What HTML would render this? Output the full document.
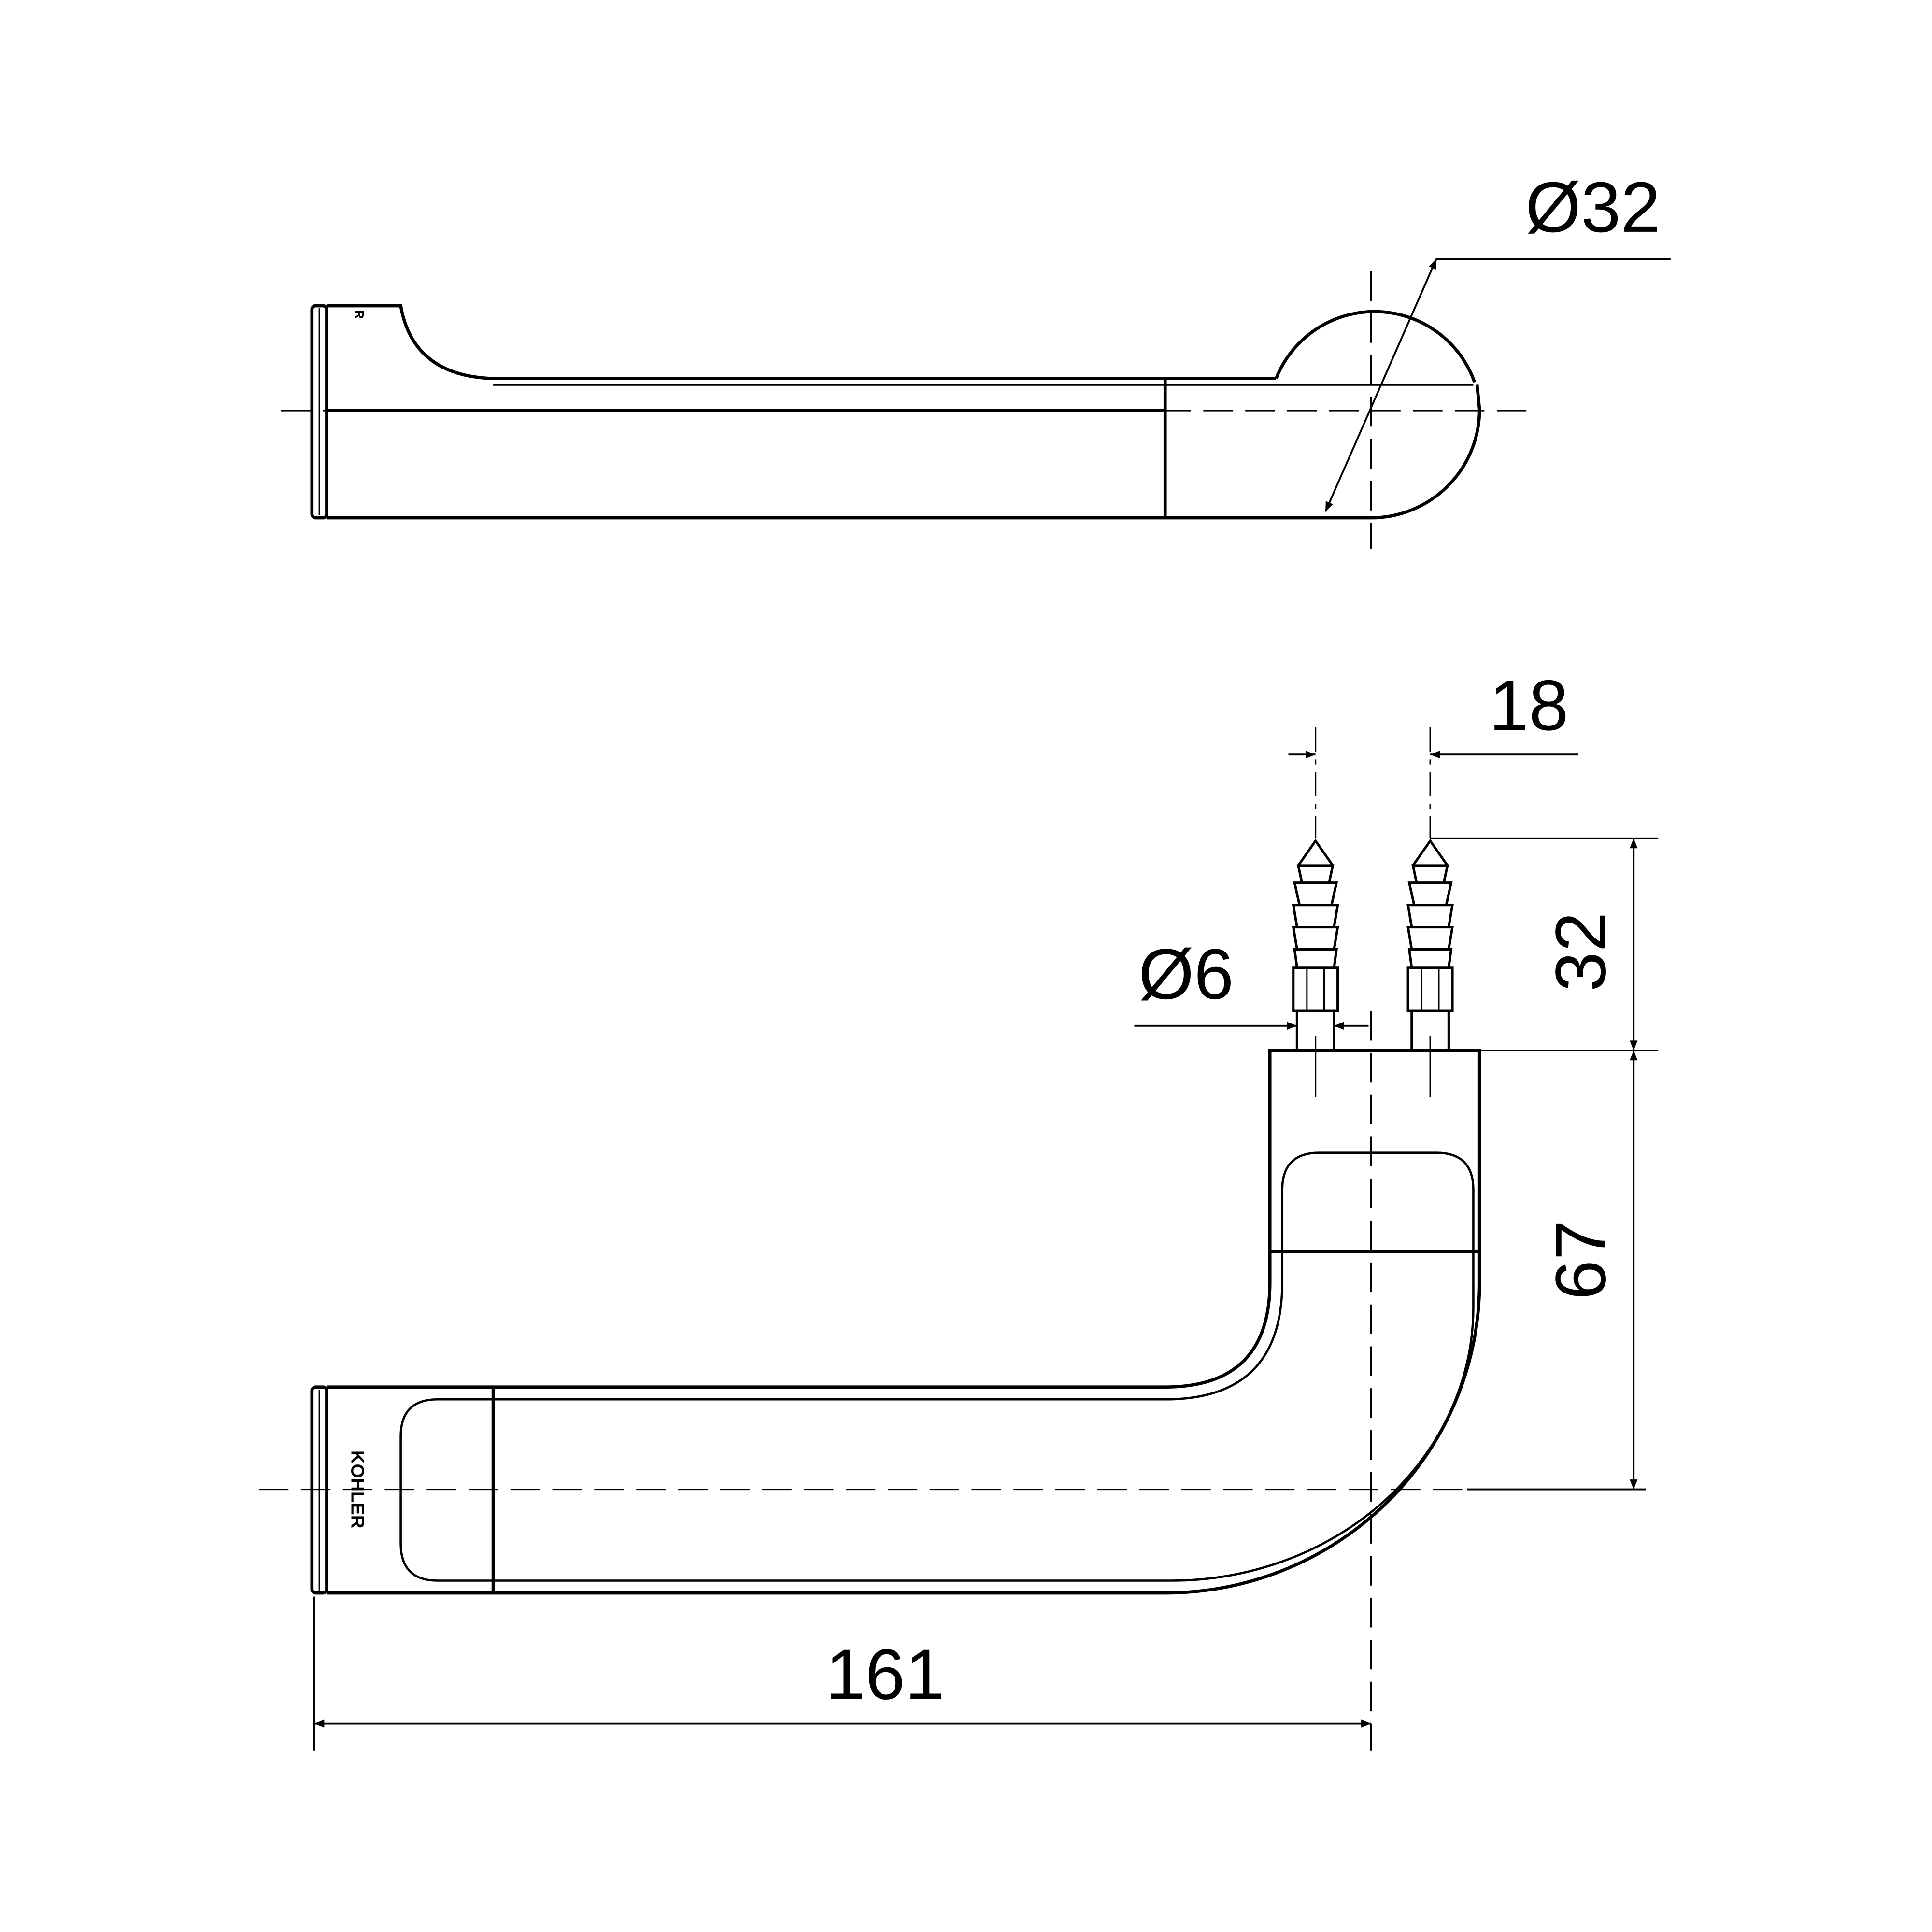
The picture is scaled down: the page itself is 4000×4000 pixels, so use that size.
<!DOCTYPE html>
<html><head><meta charset="utf-8"><style>
html,body{margin:0;padding:0;background:#fff;width:4000px;height:4000px;overflow:hidden}
svg{display:block}
text{font-family:"Liberation Sans",sans-serif;fill:#000}
</style></head><body>
<svg width="4000" height="4000" viewBox="0 0 1567 1567" xmlns="http://www.w3.org/2000/svg">
<defs>
<marker id="a" viewBox="0 0 10 10" refX="10" refY="5" markerWidth="16" markerHeight="8" markerUnits="userSpaceOnUse" orient="auto-start-reverse"><path d="M0,1 L10,5 L0,9 z" fill="#000"/></marker>
</defs>
<g fill="none" stroke="#000" stroke-width="2.6">
<!-- TOP VIEW -->
<rect x="253" y="248" width="12" height="172" rx="3"/>
<line x1="259" y1="250" x2="259" y2="418" stroke-width="1.2"/>
<path d="M265,248 L325,248 Q335,305 400,307 L1035,307"/>
<path d="M400,312 L1195,312" stroke-width="1.8"/>
<path d="M265,420 L1112,420 A88,88 0 0 0 1200,332 L1198,312"/>
<path d="M1035,307 A86,86 0 0 1 1196,310"/>
<line x1="265" y1="333" x2="945" y2="333"/>
<line x1="945" y1="307" x2="945" y2="420"/>
<line x1="228" y1="333" x2="1240" y2="333" stroke-width="1.2" stroke-dasharray="24,10"/>
<line x1="1112" y1="220" x2="1112" y2="445" stroke-width="1.2" stroke-dasharray="24,10"/>
<line x1="1075" y1="415" x2="1165" y2="210" stroke-width="1.5" marker-start="url(#a)" marker-end="url(#a)"/>
<line x1="1165" y1="210" x2="1355" y2="210" stroke-width="1.5"/>

<!-- BOTTOM VIEW -->
<rect x="253" y="1125" width="12" height="167" rx="3"/>
<line x1="259" y1="1127" x2="259" y2="1290" stroke-width="1.2"/>
<path d="M265,1125 L945,1125 Q1030,1125 1030,1040 L1030,852 L1200,852 L1200,1040 A255,252 0 0 1 945,1292 L265,1292"/>
<path d="M945,1135 Q1040,1135 1040,1040 L1040,965 Q1040,935 1070,935 L1165,935 Q1195,935 1195,965 L1195,1060 A245,222 0 0 1 950,1282" stroke-width="1.8"/>
<line x1="1030" y1="1015" x2="1200" y2="1015"/>
<path d="M400,1135 L355,1135 Q325,1135 325,1165 L325,1252 Q325,1282 355,1282 L950,1282" stroke-width="1.8"/>
<path d="M400,1135 L945,1135" stroke-width="1.8"/>
<line x1="400" y1="1125" x2="400" y2="1292"/>
<line x1="210" y1="1208" x2="1335" y2="1208" stroke-width="1.2" stroke-dasharray="24,10"/>
<line x1="1112" y1="820" x2="1112" y2="1420" stroke-width="1.2" stroke-dasharray="24,10"/>

<!-- screws -->
<g id="s" stroke-width="2">
<path d="M1052,852 L1052,820 L1082,820 L1082,852"/>
<path d="M1049,820 L1049,785 L1085,785 L1085,820 Z"/>
<path d="M1052,785 L1050,770 L1084,770 L1082,785 M1052,770 L1049,752 L1085,752 L1082,770 M1052,752 L1049,734 L1085,734 L1082,752 M1054,734 L1050,716 L1084,716 L1080,734 M1056,716 L1053,702 L1081,702 L1078,716 M1053,702 L1067,682 L1081,702"/>
<line x1="1060" y1="785" x2="1060" y2="820" stroke-width="1.2"/>
<line x1="1074" y1="785" x2="1074" y2="820" stroke-width="1.2"/>
<line x1="1067" y1="590" x2="1067" y2="680" stroke-width="1.2" stroke-dasharray="20,6,4,6"/>
<line x1="1067" y1="840" x2="1067" y2="890" stroke-width="1.2"/>
</g>
<use href="#s" transform="translate(93,0)"/>

<!-- 18 -->
<line x1="1045" y1="612" x2="1067" y2="612" stroke-width="1.5" marker-end="url(#a)"/>
<line x1="1160" y1="612" x2="1280" y2="612" stroke-width="1.5" marker-start="url(#a)"/>
<!-- 32 / 67 -->
<line x1="1160" y1="680" x2="1345" y2="680" stroke-width="1.5"/>
<line x1="1200" y1="852" x2="1345" y2="852" stroke-width="1.5"/>
<line x1="1190" y1="1208" x2="1335" y2="1208" stroke-width="1.5"/>
<line x1="1325" y1="680" x2="1325" y2="852" stroke-width="1.5" marker-start="url(#a)" marker-end="url(#a)"/>
<line x1="1325" y1="852" x2="1325" y2="1208" stroke-width="1.5" marker-start="url(#a)" marker-end="url(#a)"/>
<!-- Ø6 -->
<line x1="920" y1="832" x2="1052" y2="832" stroke-width="1.5" marker-end="url(#a)"/>
<line x1="1082" y1="832" x2="1110" y2="832" stroke-width="1.5" marker-start="url(#a)"/>
<!-- 161 -->
<line x1="255" y1="1295" x2="255" y2="1420" stroke-width="1.5"/>
<line x1="255" y1="1398" x2="1112" y2="1398" stroke-width="1.5" marker-start="url(#a)" marker-end="url(#a)"/>
</g>
<text x="1292" y="188" font-size="58" text-anchor="middle">Ø32</text>
<text x="1240" y="592" font-size="58" text-anchor="middle">18</text>
<text x="962" y="810" font-size="58" text-anchor="middle">Ø6</text>
<text x="718" y="1378" font-size="58" text-anchor="middle">161</text>
<text transform="translate(1302,772) rotate(-90)" font-size="58" text-anchor="middle">32</text>
<text transform="translate(1302,1022) rotate(-90)" font-size="58" text-anchor="middle">67</text>
<text transform="translate(285,1208) rotate(90)" font-size="15" font-weight="bold" text-anchor="middle">KOHLER</text>
<text transform="translate(288,255) rotate(90)" font-size="10" font-weight="bold" text-anchor="middle">R</text>
</svg>
</body></html>
